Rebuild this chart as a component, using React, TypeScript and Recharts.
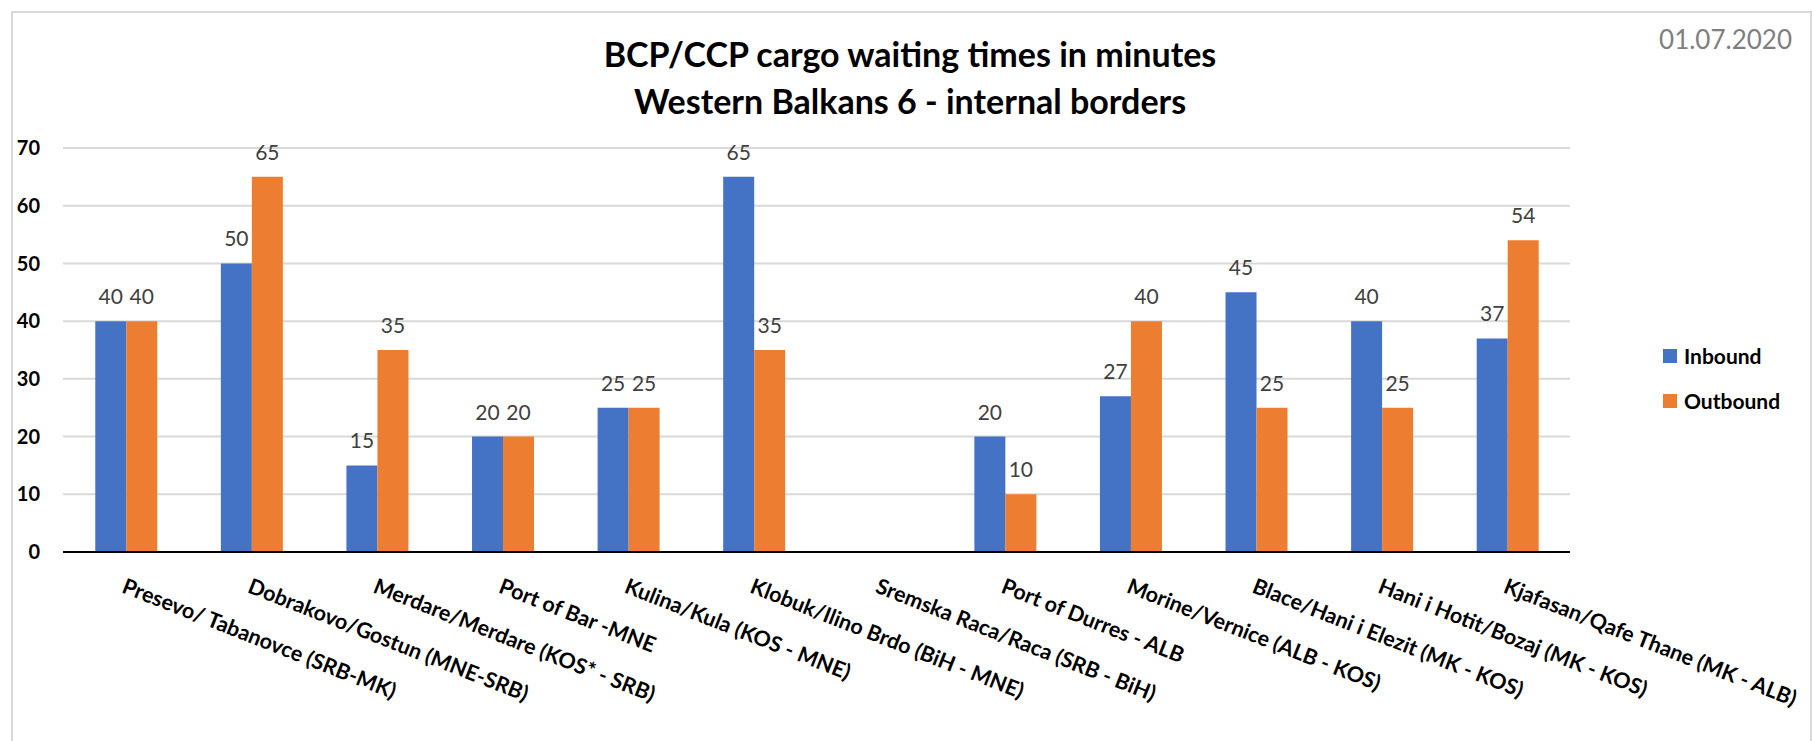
import { Bar, BarChart, CartesianGrid, LabelList, XAxis, YAxis } from 'recharts';

const crossings = [
  'Presevo/ Tabanovce (SRB-MK)',
  'Dobrakovo/Gostun (MNE-SRB)',
  'Merdare/Merdare (KOS* - SRB)',
  'Port of Bar -MNE',
  'Kulina/Kula (KOS - MNE)',
  'Klobuk/Ilino Brdo (BiH - MNE)',
  'Sremska Raca/Raca (SRB - BiH)',
  'Port of Durres - ALB',
  'Morine/Vernice (ALB - KOS)',
  'Blace/Hani i Elezit (MK - KOS)',
  'Hani i Hotit/Bozaj (MK - KOS)',
  'Kjafasan/Qafe Thane (MK - ALB)',
];

const inbound: (number | null)[] = [40, 50, 15, 20, 25, 65, null, 20, 27, 45, 40, 37];
const outbound: (number | null)[] = [40, 65, 35, 20, 25, 35, null, 10, 40, 25, 25, 54];

const yTicks = [0, 10, 20, 30, 40, 50, 60, 70];

const FONT = 'Lato, "Open Sans", sans-serif';
const BLUE = '#4472c4';
const ORANGE = '#ed7d31';

const data = crossings.map((name, i) => ({
  name,
  inbound: inbound[i],
  outbound: outbound[i],
}));

const legendItems = [
  { label: 'Inbound', color: BLUE },
  { label: 'Outbound', color: ORANGE },
];

// rotated category labels, anchored at their start like Excel does
function CrossingTick(props: any) {
  const { x, y, payload } = props;
  return (
    <g transform={`translate(${x - 5},${y})`}>
      <text
        transform="rotate(21.5)"
        textAnchor="start"
        fill="#000"
        fontSize={21.5}
        fontWeight={700}
        fontFamily={FONT}
      >
        {payload.value}
      </text>
    </g>
  );
}

export default function App() {
  return (
    <div
      style={{
        position: 'absolute',
        left: 0,
        top: 0,
        width: 1812,
        height: 741,
        background: '#fff',
        overflow: 'hidden',
      }}
    >
      <div
        style={{
          position: 'absolute',
          left: 11,
          top: 11,
          width: 1797,
          height: 760,
          border: '2px solid #d9d9d9',
        }}
      />
      <div
        style={{
          position: 'absolute',
          left: 0,
          top: 30,
          width: 1820,
          textAlign: 'center',
          fontFamily: FONT,
          fontWeight: 700,
          fontSize: 34,
          lineHeight: '47px',
          color: '#000',
        }}
      >
        <div>BCP/CCP cargo waiting times in minutes</div>
        <div>Western Balkans 6 - internal borders</div>
      </div>
      <div
        style={{
          position: 'absolute',
          right: 20,
          top: 24,
          fontFamily: FONT,
          fontSize: 26,
          lineHeight: '30px',
          color: '#7f7f7f',
        }}
      >
        01.07.2020
      </div>
      <div style={{ position: 'absolute', left: 1663, top: 333, fontFamily: FONT }}>
        {legendItems.map((it) => (
          <div key={it.label} style={{ display: 'flex', alignItems: 'center', height: 45 }}>
            <span style={{ width: 14, height: 14, background: it.color, marginRight: 7 }} />
            <span style={{ fontSize: 21, fontWeight: 700, color: '#000' }}>{it.label}</span>
          </div>
        ))}
      </div>
      <BarChart
        width={1812}
        height={741}
        data={data}
        margin={{ top: 148, right: 242, left: 0, bottom: 39 }}
        barCategoryGap="25.7%"
        barGap={0}
        style={{ position: 'absolute', left: 0, top: 0 }}
      >
        <CartesianGrid vertical={false} stroke="#d9d9d9" strokeWidth={2} />
        <XAxis
          dataKey="name"
          interval={0}
          height={150}
          tickLine={false}
          axisLine={{ stroke: '#000', strokeWidth: 2 }}
          tick={<CrossingTick />}
          tickSize={0}
          tickMargin={40}
        />
        <YAxis
          domain={[0, 70]}
          ticks={yTicks}
          width={63}
          axisLine={false}
          tickLine={false}
          tickSize={0}
          tickMargin={23}
          tick={{ fill: '#000', fontSize: 20, fontWeight: 700, fontFamily: FONT }}
        />
        <Bar dataKey="inbound" fill={BLUE} isAnimationActive={false}>
          <LabelList
            dataKey="inbound"
            position="top"
            offset={17}
            fill="#404040"
            fontSize={21}
            fontFamily={FONT}
          />
        </Bar>
        <Bar dataKey="outbound" fill={ORANGE} isAnimationActive={false}>
          <LabelList
            dataKey="outbound"
            position="top"
            offset={17}
            fill="#404040"
            fontSize={21}
            fontFamily={FONT}
          />
        </Bar>
      </BarChart>
    </div>
  );
}
